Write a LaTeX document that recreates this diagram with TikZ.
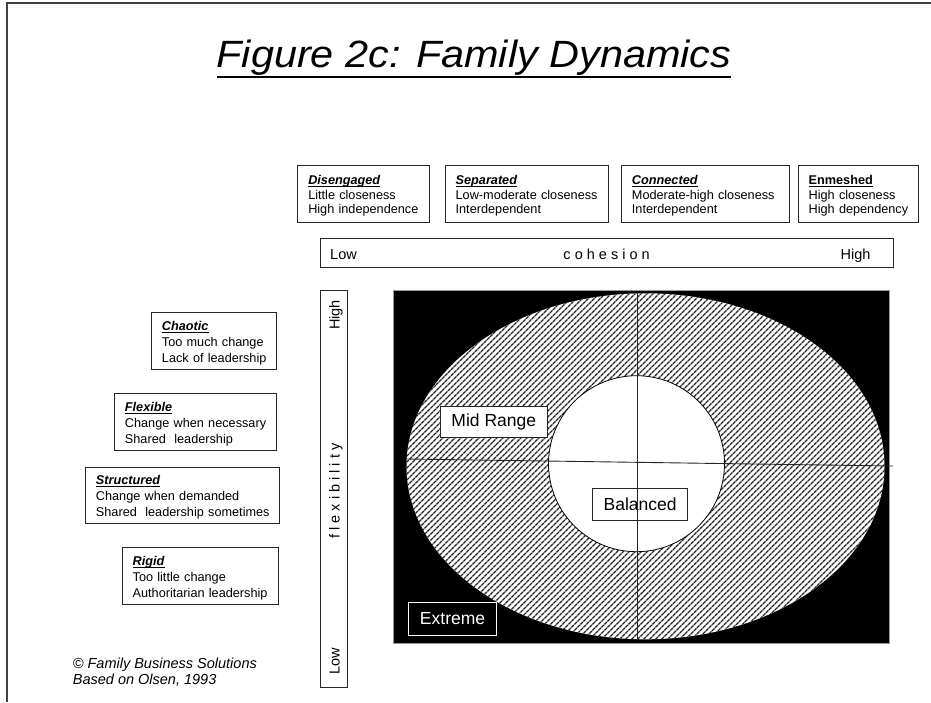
\documentclass[tikz,border=0pt]{standalone}
\usepackage{fontspec}
\setmainfont{Liberation Sans}
\usetikzlibrary{patterns.meta}

% underline at a given depth below the baseline, with a given thickness
\newcommand{\uln}[3]{\setbox0=\hbox{#3}\rlap{\rule[-#1]{\wd0}{#2}}\box0}
\newcommand{\hd}[1]{\uln{2.4pt}{0.9pt}{\textbf{\textit{#1}}}}
\newcommand{\hdb}[1]{\uln{2.4pt}{0.9pt}{\textbf{#1}}}
% three stacked lines, nudged slightly down inside their box
\newcommand{\stack}[1]{\raisebox{-2pt}[\height][\depth]{\begin{tabular}{@{}l@{}}#1\end{tabular}}}

\begin{document}
\begin{tikzpicture}[x=1pt,y=-1pt,
  every node/.style={inner sep=0pt},
  frameline/.style={draw=black!75, line width=1.3pt},
  infobox/.style={draw=black!85, line width=0.9pt, fill=white, anchor=north west,
    inner xsep=10.5pt, inner ysep=0pt, align=left,
    font=\fontsize{12.7}{14.5}\selectfont},
  sidebox/.style={infobox, font=\fontsize{12.7}{16}\selectfont},
  scalebox/.style={draw=black!85, line width=0.9pt, anchor=north west,
    font=\fontsize{14.5}{17}\selectfont},
  scaletext/.style={font=\fontsize{14.5}{17}\selectfont},
  zonebox/.style={draw=black!85, line width=0.9pt, fill=white, anchor=north west,
    font=\fontsize{17.5}{20}\selectfont},
  axisline/.style={draw=black!85, line width=0.9pt},
  hatch/.style={preaction={fill=white},
    pattern={Lines[angle=45, distance=4pt, line width=1.4pt]}, pattern color=black!85}
]
\useasboundingbox (0,0) rectangle (931,702);

% page frame
\coordinate (fb) at (7,702);
\coordinate (fc) at (7,3);
\coordinate (fr) at (931,3);
\draw[frameline] (fb) -- (fc) -- (fr);

% title
\node[anchor=base, font=\fontsize{38}{44}\selectfont\itshape] (title) at (474,67.5)
  {\scalebox{1.09}[1]{\uln{10.8pt}{2.5pt}{Figure 2c: Family Dynamics}}};

% cohesion descriptions
\node[infobox, text width=110.7pt, minimum height=57.3pt] (dis) at (297.3,165)
  {\stack{\hd{Disengaged}\\Little closeness\\High independence}};
\node[infobox, text width=142.6pt, minimum height=57.3pt] (sep) at (444.7,165)
  {\stack{\hd{Separated}\\Low-moderate closeness\\Interdependent}};
\node[infobox, text width=146.7pt, minimum height=57.3pt] (con) at (621,165)
  {\stack{\hd{Connected}\\Moderate-high closeness\\Interdependent}};
\node[infobox, text width=99pt, minimum height=57.3pt] (enm) at (797.7,165)
  {\stack{\hdb{Enmeshed}\\High closeness\\High dependency}};

% cohesion scale
\node[scalebox, minimum width=573.3pt, minimum height=29pt] (coh) at (320,238.3) {};
\node[scaletext, anchor=base west] (cohlow) at (330,259.3) {Low};
\node[scaletext, anchor=base] (cohname) at (606.6,259.3) {c o h e s i o n};
\node[scaletext, anchor=base east] (cohhigh) at (870.7,259.3) {High};

% flexibility scale
\node[scalebox, minimum width=27pt, minimum height=397pt] (flx) at (320,290) {};
\node[scaletext, rotate=90, anchor=base] (flxhigh) at (339.5,315) {High};
\node[scaletext, rotate=90, anchor=base] (flxname) at (339.5,491) {f l e x i b i l i t y};
\node[scaletext, rotate=90, anchor=base] (flxlow) at (339.5,661.5) {Low};

% flexibility descriptions
\node[sidebox, text width=103.7pt, minimum height=57pt] (cha) at (151,312.3)
  {\stack{\hd{Chaotic}\\Too much change\\Lack of leadership}};
\node[sidebox, text width=140.7pt, minimum height=57.3pt] (fle) at (114,392.7)
  {\stack{\hd{Flexible}\\Change when necessary\\Shared\ \ leadership}};
\node[sidebox, text width=173.3pt, minimum height=56.6pt] (str) at (85,466.7)
  {\stack{\hd{Structured}\\Change when demanded\\Shared\ \ leadership sometimes}};
\node[sidebox, text width=135pt, minimum height=57.6pt] (rig) at (121.7,546.7)
  {\stack{\hd{Rigid}\\Too little change\\Authoritarian leadership}};

% credits
\node[anchor=base west, font=\fontsize{14.5}{17}\selectfont\itshape] (cred1) at (72.7,668)
  {© Family Business Solutions};
\node[anchor=base west, font=\fontsize{14.5}{17}\selectfont\itshape] (cred2) at (72.7,684.5)
  {Based on Olsen, 1993};

% circumplex: extreme field, mid-range ring, balanced core
\path[fill=black, draw=black!40, line width=0.8pt] (393,290) rectangle (889,643);
\path[hatch] (645.5,466.3) ellipse [x radius=239, y radius=173];
\path[fill=white, draw=black, line width=0.8pt] (636.5,463.7) circle [radius=88];

\node[zonebox, minimum width=95.3pt, minimum height=31.7pt] (bal) at (592,488.3) {Balanced};

% axes through the model
\coordinate (hl) at (407,459);
\coordinate (hr) at (893,466);
\coordinate (vt) at (637,293);
\coordinate (vb) at (637,640);
\draw[axisline] (hl) -- (hr);
\draw[axisline] (vt) -- (vb);

\node[zonebox, minimum width=106.7pt, minimum height=31pt] (mid) at (440,405.7) {Mid Range};
\node[zonebox, fill=black, draw=white, text=white, minimum width=87.8pt, minimum height=33pt]
  (ext) at (408.2,602) {Extreme};
\end{tikzpicture}
\end{document}
